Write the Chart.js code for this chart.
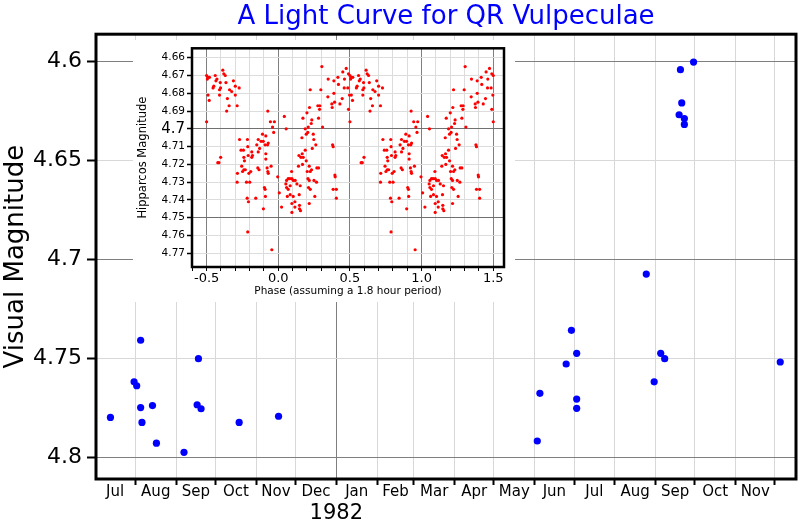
<!DOCTYPE html>
<html>
<head>
<meta charset="utf-8">
<script src="https://cdn.jsdelivr.net/npm/chart.js@4.4.0/dist/chart.umd.min.js"></script>
<style>
  body { margin: 0; background: #fff; }
  #wrap { position: relative; width: 800px; height: 520px; }
  #mainChart { position: absolute; left: 0; top: 0; }
  #insetChart { position: absolute; left: 133px; top: 40px; }
</style>
</head>
<body>
<div id="wrap">
  <canvas id="mainChart" width="800" height="520"></canvas>
  <canvas id="insetChart" width="382" height="262"></canvas>
</div>
<script>
// visual observations (date, magnitude)
var obsDates = [
  '1981-07-13', '1981-07-31', '1981-08-02', '1981-08-05', '1981-08-05', '1981-08-06',
  '1981-08-14', '1981-08-17', '1981-09-07', '1981-09-17', '1981-09-18', '1981-09-20',
  '1981-10-19', '1981-11-18',
  '1982-06-03', '1982-06-05', '1982-06-25', '1982-06-29', '1982-07-03', '1982-07-03',
  '1982-07-03', '1982-08-25', '1982-08-31', '1982-09-05', '1982-09-08', '1982-09-19',
  '1982-09-20', '1982-09-21', '1982-09-23', '1982-09-23', '1982-09-30', '1982-12-05'
];
var visualMag = [
  4.780, 4.762, 4.764, 4.741, 4.775, 4.7825,
  4.774, 4.793, 4.7976, 4.7736, 4.7503, 4.7756,
  4.7825, 4.7794,
  4.7919, 4.7678, 4.753, 4.736, 4.7476, 4.7707,
  4.7754, 4.7076, 4.762, 4.7476, 4.7503, 4.6271,
  4.6043, 4.6211, 4.629, 4.632, 4.6005, 4.752
];

var monthLabels = ['Jul', 'Aug', 'Sep', 'Oct', 'Nov', 'Dec', 'Jan', 'Feb', 'Mar',
                   'Apr', 'May', 'Jun', 'Jul', 'Aug', 'Sep', 'Oct', 'Nov'];
var yearLabel = '1982';
var magTicks = [4.6, 4.65, 4.7, 4.75, 4.8];
var magTickLabels = ['4.6', '4.65', '4.7', '4.75', '4.8'];

// Hipparcos photometry folded on one cycle (phase 0..1)
var phase = [
  0.304, 0.474, 0.450, 0.490, 0.416, 0.388, 0.462, 0.348, 0.420, 0.460, 0.485, 0.297, 0.223,
  0.497, 0.346, 0.388, 0.446, 0.276, 0.290, 0.218, 0.374, 0.393, 0.430, 0.288, 0.376, 0.200,
  0.042, 0.172, 0.234, 0.281, 0.230, 0.500, 0.309, 0.209, 0.188, 0.055, 0.195, 0.206, 0.244,
  0.165, 0.248, 0.262, 0.379, 0.383, 0.237, 0.188, 0.167, 0.158, 0.144, 0.174, 0.195,
  0.613, 0.620, 0.630, 0.500, 0.510, 0.520, 0.505, 0.560, 0.572, 0.565, 0.595, 0.635, 0.550,
  0.545, 0.590, 0.597, 0.687, 0.660, 0.675, 0.700, 0.727, 0.510, 0.590, 0.700, 0.518, 0.645,
  0.657, 0.713, 0.640, 0.490,
  0.927, 0.945, 0.973, 0.960, 0.968, 0.890, 0.913, 0.730, 0.785, 0.860, 0.880, 0.895, 0.930,
  0.925, 0.850, 0.870, 0.787, 0.908, 0.740, 0.757, 0.815, 0.860, 0.790, 0.820, 0.913, 0.764,
  0.598,
  0.578, 0.586, 0.760, 0.815, 0.913, 0.745, 0.760, 0.751, 0.770, 0.795, 0.808, 0.857, 0.866,
  0.922, 0.927, 0.950, 0.930, 0.715, 0.713, 0.996, 0.778, 0.801, 0.903, 0.908, 0.783, 0.792,
  0.843, 0.910, 0.896, 0.787, 0.955,
  0.141, 0.169, 0.216, 0.232, 0.269, 0.281, 0.093, 0.202, 0.223, 0.395, 0.397, 0.080, 0.069,
  0.058, 0.095, 0.104, 0.118, 0.207, 0.216, 0.249, 0.267, 0.053, 0.083, 0.130, 0.153, 0.069,
  0.058, 0.211, 0.223, 0.383, 0.405, 0.007, 0.063, 0.083, 0.104, 0.146, 0.255, 0.405, 0.116,
  0.095, 0.216, 0.023, 0.116, 0.148, 0.148, 0.155, 0.095
];
var hipMag = [
  4.665, 4.666, 4.668, 4.669, 4.671, 4.673, 4.672, 4.672, 4.675, 4.677, 4.677, 4.678, 4.678,
  4.681, 4.682, 4.680, 4.683, 4.687, 4.687, 4.688, 4.686, 4.685, 4.686, 4.689, 4.688, 4.691,
  4.693, 4.694, 4.695, 4.694, 4.697, 4.696, 4.699, 4.699, 4.700, 4.700, 4.703, 4.702, 4.703,
  4.705, 4.706, 4.709, 4.709, 4.710, 4.711, 4.712, 4.714, 4.716, 4.715, 4.716, 4.718,
  4.667, 4.669, 4.670, 4.670, 4.671, 4.671, 4.672, 4.670, 4.672, 4.673, 4.674, 4.674, 4.676,
  4.677, 4.678, 4.677, 4.673, 4.678, 4.679, 4.676, 4.677, 4.681, 4.681, 4.681, 4.684, 4.683,
  4.687, 4.687, 4.690, 4.689,
  4.690, 4.696, 4.696, 4.699, 4.702, 4.703, 4.704, 4.706, 4.706, 4.706, 4.707, 4.707, 4.708,
  4.709, 4.709, 4.711, 4.710, 4.709, 4.712, 4.712, 4.713, 4.713, 4.715, 4.715, 4.714, 4.718,
  4.716,
  4.719, 4.719, 4.716, 4.716, 4.717, 4.721, 4.723, 4.724, 4.723, 4.725, 4.724, 4.722, 4.723,
  4.722, 4.724, 4.721, 4.725, 4.725, 4.730, 4.727, 4.730, 4.730, 4.733, 4.734, 4.739, 4.741,
  4.739, 4.738, 4.745, 4.758, 4.768,
  4.721, 4.720, 4.721, 4.723, 4.722, 4.722, 4.724, 4.724, 4.724, 4.726, 4.727, 4.728, 4.728,
  4.729, 4.728, 4.729, 4.729, 4.728, 4.729, 4.729, 4.730, 4.731, 4.732, 4.731, 4.732, 4.734,
  4.733, 4.733, 4.734, 4.734, 4.734, 4.736, 4.738, 4.737, 4.738, 4.737, 4.738, 4.739, 4.741,
  4.742, 4.742, 4.744, 4.744, 4.743, 4.745, 4.746, 4.747
];
var hipTicks = [4.66, 4.67, 4.68, 4.69, 4.70, 4.71, 4.72, 4.73, 4.74, 4.75, 4.76, 4.77];
var hipTickLabels = ['4.66', '4.67', '4.68', '4.69', '4.7', '4.71', '4.72', '4.73', '4.74',
                     '4.75', '4.76', '4.77'];
var phaseTicks = [-0.5, 0, 0.5, 1, 1.5];
var phaseTickLabels = ['-0.5', '0.0', '0.5', '1.0', '1.5'];

Chart.defaults.font.family = 'DejaVu Sans';
Chart.defaults.color = '#000';

var DAY = 86400000;
var T0 = Date.UTC(1981, 6, 1);
function dayOf(s) {
  var p = s.split('-');
  return (Date.UTC(+p[0], +p[1] - 1, +p[2]) - T0) / DAY;
}

var monthStart = [];
for (var i = 0; i <= monthLabels.length; i++) {
  monthStart.push((Date.UTC(1981, 6 + i, 1) - T0) / DAY);
}
var yearDay = dayOf('1982-01-01');

// month boundaries get grid + tick marks, mid-months get the names
var xTicks = [];
for (i = 1; i < monthStart.length; i++) xTicks.push({ value: monthStart[i], label: '', edge: true });
for (i = 0; i < monthLabels.length; i++) {
  xTicks.push({ value: (monthStart[i] + monthStart[i + 1]) / 2, label: monthLabels[i], edge: false });
}
xTicks.sort(function (a, b) { return a.value - b.value; });

var mainPoints = obsDates.map(function (d, k) { return { x: dayOf(d), y: visualMag[k] }; });

var CLEAR = 'rgba(0,0,0,0)';

var framePlugin = {
  id: 'frame',
  beforeDraw: function (chart) {
    var c = chart.ctx;
    c.save();
    c.fillStyle = '#fff';
    c.fillRect(0, 0, chart.width, chart.height);
    c.restore();
  },
  afterDraw: function (chart) {
    var a = chart.chartArea, c = chart.ctx;
    c.save();
    c.strokeStyle = '#000';
    c.lineWidth = chart.options.frameWidth || 3;
    c.strokeRect(a.left, a.top, a.right - a.left, a.bottom - a.top);
    c.restore();
  }
};

var mainChart = new Chart(document.getElementById('mainChart'), {
  type: 'scatter',
  data: {
    datasets: [{
      data: mainPoints,
      backgroundColor: '#0000ff',
      borderWidth: 0,
      pointRadius: 3.6
    }]
  },
  options: {
    responsive: false,
    animation: false,
    layout: { padding: { left: 0, right: 3, top: 0, bottom: 0 } },
    plugins: {
      legend: { display: false },
      tooltip: { enabled: false },
      title: {
        display: true,
        text: 'A Light Curve for QR Vulpeculae',
        color: '#0000ff',
        fullSize: false,
        font: { size: 26, weight: 'normal' },
        padding: { top: 2, bottom: 1 }
      }
    },
    scales: {
      x: {
        type: 'linear',
        position: 'bottom',
        min: 1,
        max: 534,
        weight: 0,
        afterBuildTicks: function (scale) {
          scale.ticks = xTicks.map(function (t) { return { value: t.value }; });
        },
        afterFit: function (scale) { scale.height = 22; },
        ticks: {
          autoSkip: false,
          maxRotation: 0,
          padding: -2,
          font: { size: 15 },
          callback: function (v, idx) { return xTicks[idx] ? xTicks[idx].label : ''; }
        },
        grid: {
          tickLength: 6,
          tickWidth: 2,
          color: function (ctx) {
            var t = xTicks[ctx.index];
            if (!t || !t.edge) return CLEAR;
            return t.value === yearDay ? '#7f7f7f' : '#d8d8d8';
          },
          tickColor: function (ctx) {
            var t = xTicks[ctx.index];
            return t && t.edge ? '#000' : CLEAR;
          }
        },
        border: { display: false }
      },
      xYear: {
        axis: 'x',
        type: 'linear',
        position: 'bottom',
        min: 1,
        max: 534,
        weight: 1,
        afterBuildTicks: function (scale) { scale.ticks = [{ value: yearDay }]; },
        afterFit: function (scale) { scale.height = 19; },
        ticks: {
          autoSkip: false,
          maxRotation: 0,
          padding: -8,
          font: { size: 21 },
          callback: function () { return yearLabel; }
        },
        grid: { display: false },
        border: { display: false }
      },
      y: {
        type: 'linear',
        reverse: true,
        min: 4.5864,
        max: 4.8111,
        afterBuildTicks: function (scale) {
          scale.ticks = magTicks.map(function (v) { return { value: v }; });
        },
        afterFit: function (scale) { scale.width = 96; },
        ticks: {
          autoSkip: false,
          padding: 5,
          font: { size: 22 },
          callback: function (v, idx) { return magTickLabels[idx]; }
        },
        grid: {
          tickLength: 9,
          tickWidth: 2,
          tickColor: '#000',
          color: function (ctx) {
            if (!ctx.tick) return CLEAR;
            var k = Math.round(ctx.tick.value * 100);
            return k % 10 === 0 ? '#7f7f7f' : '#d8d8d8';
          }
        },
        border: { display: false },
        title: {
          display: true,
          text: 'Visual Magnitude',
          font: { size: 26 },
          padding: { top: 1, bottom: 0 }
        }
      }
    }
  },
  plugins: [framePlugin]
});

// inset: the folded cycle is repeated so that phase runs from -0.5 to 1.5
var insetPoints = [];
[-1, 0, 1].forEach(function (shift) {
  phase.forEach(function (p, k) {
    var x = p + shift;
    if (x >= -0.5 && x <= 1.5) insetPoints.push({ x: x, y: hipMag[k] });
  });
});

var phaseGrid = [];
for (i = -6; i <= 15; i++) phaseGrid.push(i / 10);

function isMajorPhase(v) { return Math.abs(v * 2 - Math.round(v * 2)) < 1e-6; }
function phaseLabel(v) {
  for (var j = 0; j < phaseTicks.length; j++) {
    if (Math.abs(phaseTicks[j] - v) < 1e-6) return phaseTickLabels[j];
  }
  return '';
}

var insetChart = new Chart(document.getElementById('insetChart'), {
  type: 'scatter',
  data: {
    datasets: [{
      data: insetPoints,
      backgroundColor: '#ff0000',
      borderWidth: 0,
      pointRadius: 1.6,
      clip: 0
    }]
  },
  options: {
    responsive: false,
    animation: false,
    frameWidth: 2.5,
    layout: { padding: { left: 0, right: 11, top: 7, bottom: 0 } },
    plugins: {
      legend: { display: false },
      tooltip: { enabled: false }
    },
    scales: {
      x: {
        type: 'linear',
        min: -0.602,
        max: 1.575,
        afterBuildTicks: function (scale) {
          scale.ticks = phaseGrid.map(function (v) { return { value: v }; });
        },
        afterFit: function (scale) { scale.height = 35; },
        ticks: {
          autoSkip: false,
          maxRotation: 0,
          padding: 0,
          font: { size: 13 },
          callback: function (v) { return phaseLabel(v); }
        },
        grid: {
          tickLength: 4,
          tickColor: '#000',
          color: function (ctx) {
            if (!ctx.tick) return CLEAR;
            return isMajorPhase(ctx.tick.value) ? '#7f7f7f' : '#dcdcdc';
          }
        },
        border: { display: false },
        title: {
          display: true,
          text: 'Phase (assuming a 1.8 hour period)',
          font: { size: 10.5 },
          padding: { top: 0, bottom: 4 }
        }
      },
      y: {
        type: 'linear',
        reverse: true,
        min: 4.6547,
        max: 4.7777,
        afterBuildTicks: function (scale) {
          scale.ticks = hipTicks.map(function (v) { return { value: v }; });
        },
        afterFit: function (scale) { scale.width = 59; },
        ticks: {
          autoSkip: false,
          padding: 2,
          font: function (ctx) {
            var big = ctx.tick && Math.abs(ctx.tick.value - 4.7) < 1e-6;
            return { size: big ? 15 : 10.5 };
          },
          callback: function (v, idx) { return hipTickLabels[idx]; }
        },
        grid: {
          tickLength: 5,
          tickWidth: 1.5,
          tickColor: '#000',
          color: function (ctx) {
            if (!ctx.tick) return CLEAR;
            var k = Math.round(ctx.tick.value * 100);
            return (k === 470 || k === 475) ? '#707070' : '#dcdcdc';
          }
        },
        border: { display: false },
        title: {
          display: true,
          text: 'Hipparcos Magnitude',
          font: { size: 11.5 },
          padding: { top: 3, bottom: 0 }
        }
      }
    }
  },
  plugins: [framePlugin]
});
</script>
</body>
</html>
